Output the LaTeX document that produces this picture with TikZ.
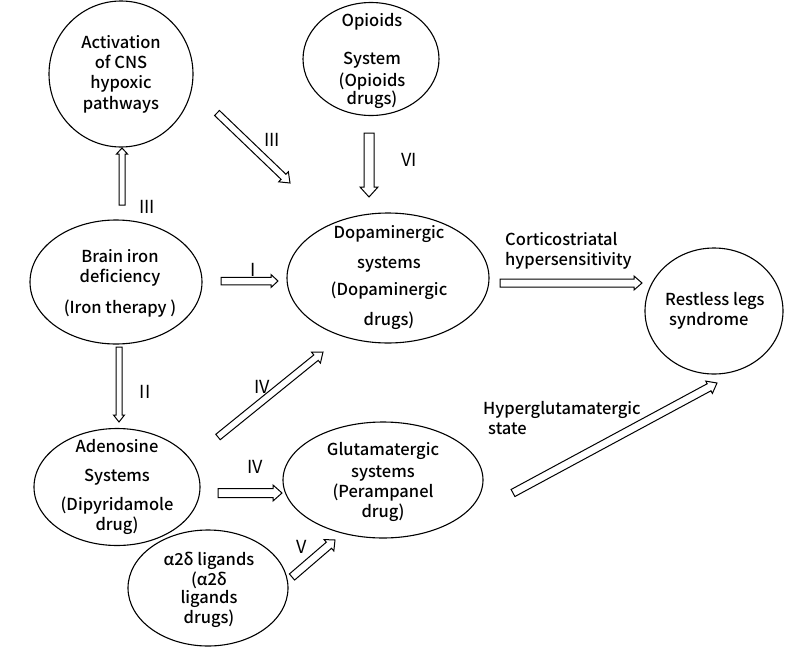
\documentclass[tikz,border=0pt]{standalone}
\usepackage{fontspec}
\setmainfont{Noto Sans CJK SC}
\IfFontExistsTF{Noto Sans CJK SC Medium}
  {\newfontfamily\nodefont{Noto Sans CJK SC Medium}}
  {\newfontfamily\nodefont{Noto Sans CJK SC}[UprightFont=*~Bold]}
\usetikzlibrary{calc,shapes.geometric}
\newcommand\harrow[5]{%
  \coordinate (hb) at ($(#2)!#5!(#1)$);
  \draw[harr] ($(#1)!#3!90:(#2)$) -- ($(hb)!#3!90:(#2)$) -- ($(hb)!#4!90:(#2)$) -- (#2)
    -- ($(hb)!#4!-90:(#2)$) -- ($(hb)!#3!-90:(#2)$) -- ($(#1)!#3!-90:(#2)$) -- cycle;
}
\begin{document}
\begin{tikzpicture}[x=1pt,y=-1pt,
  ell/.style={draw, ellipse, line width=1.1pt, inner sep=0pt},
  txt/.style={align=center, font=\nodefont\fontsize{16.5}{20}\selectfont, inner sep=0pt},
  num/.style={font=\fontsize{18}{20}\selectfont, inner sep=0pt},
  lab/.style={align=left, font=\nodefont\fontsize{16.5}{20}\selectfont, inner sep=0pt, anchor=west},
  harr/.style={draw, line width=1pt, fill=white, line join=miter}]
\useasboundingbox (0,0) rectangle (793,651);
% ellipses
\node[ell, minimum width=144, minimum height=146] (act) at (121,74) {};
\node[ell, minimum width=136, minimum height=113] (opi) at (371,59) {};
\node[ell, minimum width=172, minimum height=124] (bra) at (116,282) {};
\node[ell, minimum width=202, minimum height=130] (dop) at (388,278) {};
\node[ell, minimum width=138, minimum height=126] (rls) at (714,311) {};
\node[ell, minimum width=166, minimum height=117] (ade) at (117,487) {};
\node[ell, minimum width=200, minimum height=116] (glu) at (383,480) {};
\node[ell, minimum width=160, minimum height=116] (a2d) at (208,588) {};
% texts
\node[txt] (actT) at (act.center) {Activation\\of CNS\\hypoxic\\[1pt]pathways};
\node[txt] (opiT) at (372,61) {Opioids\\[18pt]System\\[2pt](Opioids\\[-2pt]drugs)};
\node[txt] (braT) at (120,283) {Brain iron\\deficiency\\[11pt](Iron therapy )};
\node[txt] (dopT) at (389,278) {Dopaminergic\\[10pt]systems\\[7pt](Dopaminergic\\[10pt]drugs)};
\node[lab] (rlsT) at (665,311) {Restless legs\\\hspace{4pt}syndrome};
\node[txt] (adeT) at (117,487) {Adenosine\\[9pt]Systems\\[9pt](Dipyridamole\\drug)};
\node[txt] (gluT) at (383,482) {Glutamatergic\\[2pt]systems\\(Perampanel\\drug)};
\node[txt] (a2dT) at (209,590) {α2δ ligands\\(α2δ\\[-2pt]ligands\\drugs)};
% edge labels
\node[lab] (cort) at (505,251) {Corticostriatal\\hypersensitivity};
\node[lab] (hypg) at (483,418) {Hyperglutamatergic\\\hspace{5pt}state};
\node[num] (n1) at (272,140) {III};
\node[num] (n2) at (409,160) {VI};
\node[num] (n3) at (147,207) {III};
\node[num] (n4) at (253,270) {I};
\node[num] (n5) at (145,392) {II};
\node[num] (n6) at (262,387) {IV};
\node[num] (n7) at (255,467) {IV};
\node[num] (n8) at (302,547) {V};
% arrow end points
\coordinate (a1s) at (122,205); \coordinate (a1e) at (122,148);
\coordinate (a2s) at (217,113); \coordinate (a2e) at (290,183);
\coordinate (a3s) at (369,133); \coordinate (a3e) at (369,197);
\coordinate (a4s) at (221,281); \coordinate (a4e) at (278,281);
\coordinate (a5s) at (500,283); \coordinate (a5e) at (642,283);
\coordinate (a6s) at (119,347); \coordinate (a6e) at (119,422);
\coordinate (a7s) at (218,437); \coordinate (a7e) at (323,352);
\coordinate (a8s) at (218,493); \coordinate (a8e) at (282,493);
\coordinate (a9s) at (292,577); \coordinate (a9e) at (335,540);
\coordinate (a10s) at (513,493); \coordinate (a10e) at (717,383);
\harrow{a1s}{a1e}{3pt}{5.5pt}{6pt}
\harrow{a2s}{a2e}{3.5pt}{7pt}{9pt}
\harrow{a3s}{a3e}{5pt}{9pt}{10pt}
\harrow{a4s}{a4e}{3.75pt}{6.5pt}{7pt}
\harrow{a5s}{a5e}{4pt}{7pt}{8pt}
\harrow{a6s}{a6e}{3pt}{5.5pt}{7pt}
\harrow{a7s}{a7e}{3.5pt}{7pt}{9pt}
\harrow{a8s}{a8e}{4.5pt}{8pt}{9pt}
\harrow{a9s}{a9e}{4pt}{7.5pt}{8pt}
\harrow{a10s}{a10e}{4pt}{7pt}{9pt}
\end{tikzpicture}
\end{document}
